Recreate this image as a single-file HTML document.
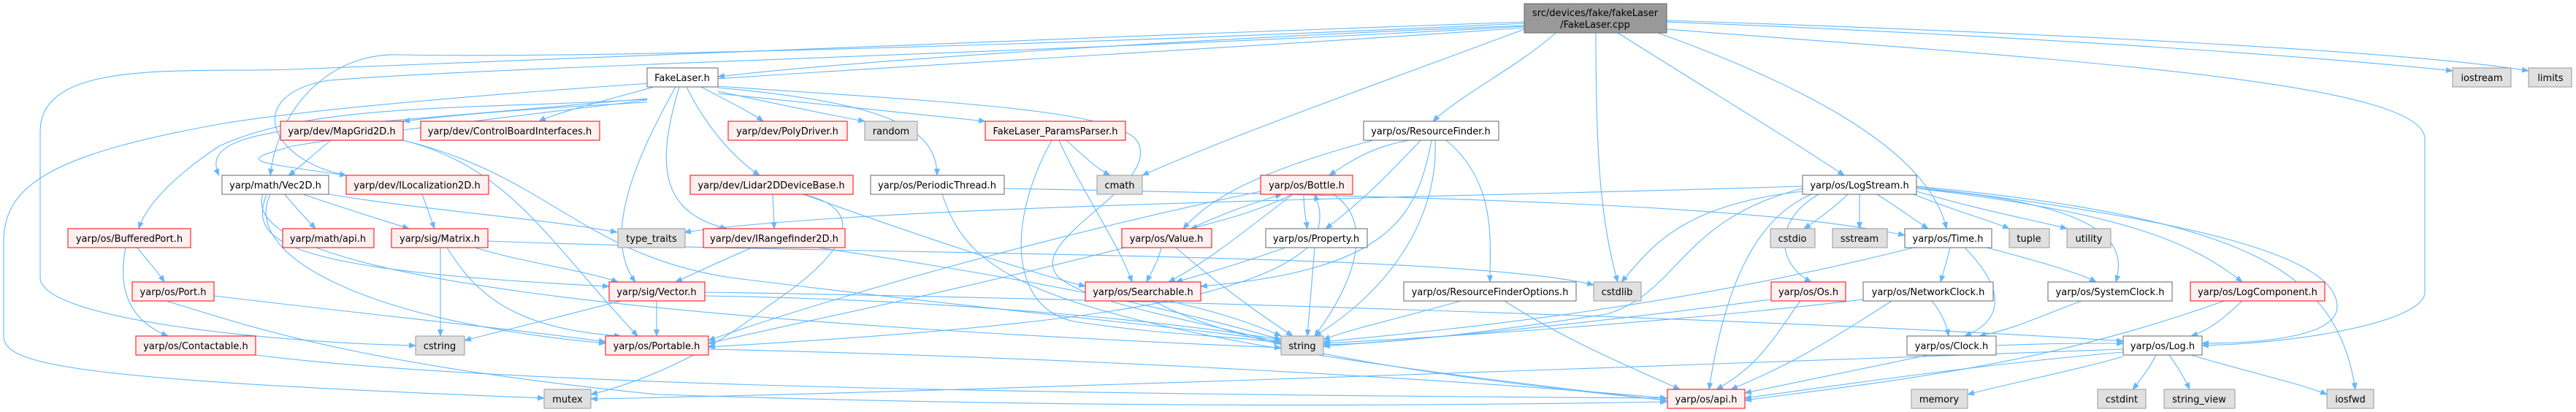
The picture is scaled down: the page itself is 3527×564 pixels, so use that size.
<!DOCTYPE html>
<html><head><meta charset="utf-8"><style>
body{margin:0;background:#fff;}
svg{display:block;}
text{font-family:"DejaVu Sans","Liberation Sans",sans-serif;font-size:13px;fill:#000;text-anchor:middle;}
.e{fill:none;stroke:#63b8ff;stroke-width:1.1;marker-end:url(#a);}
.r{fill:#fff0f0;stroke:#ff0000;stroke-width:1;}
.g{fill:#e0e0e0;stroke:#999;stroke-width:1;}
.w{fill:#fff;stroke:#666;stroke-width:1;}
.m{fill:#999;stroke:#666;stroke-width:1;}
</style></head><body>
<svg width="3527" height="564" viewBox="0 0 3527 564" xmlns="http://www.w3.org/2000/svg">
<defs><marker id="a" markerWidth="10" markerHeight="8" refX="9" refY="4" orient="auto" markerUnits="userSpaceOnUse"><path d="M0,0 L10,4 L0,8 z" fill="#63b8ff"/></marker></defs>
<g>
<!-- main -->
<path class="e" d="M2087,35 C1700,50 1200,80 983,105"/>
<path class="e" d="M2130,45 C2080,90 2000,130 1962,166"/>
<path class="e" d="M2185,45 C2185,200 2190,300 2215,386"/>
<path class="e" d="M2215,45 C2350,130 2450,190 2525,240"/>
<path class="e" d="M2270,45 C2450,110 2640,200 2665,313"/>
<path class="e" d="M2282,30 C2800,50 3200,80 3358,97"/>
<path class="e" d="M2282,28 C2800,45 3300,70 3462,97"/>
<path class="e" d="M2282,40 C2800,80 3320,110 3320,190 L3320,400 C3320,440 3150,470 3015,473"/>
<path class="e" d="M2087,40 C1900,110 1700,180 1564,240"/>
<path class="e" d="M2087,30 C1500,50 800,80 400,95 C250,100 55,80 55,180 L55,380 C55,440 400,470 569,473"/>
<path class="e" d="M2087,32 C1500,60 800,80 550,75 C450,70 380,150 370,240"/>
<path class="e" d="M2087,36 C1500,70 700,90 450,110 C330,130 370,220 474,240"/>
<path class="e" d="M2087,38 C1500,80 600,120 300,170 C80,210 5,250 5,330 L5,460 C5,500 100,520 745,545"/>
<!-- FakeLaser.h -->
<path class="e" d="M886,140 C700,150 600,160 552,166"/>
<path class="e" d="M895,119 C820,140 760,155 738,166"/>
<path class="e" d="M960,119 C1000,140 1030,155 1045,166"/>
<path class="e" d="M983,125 C1100,150 1150,160 1184,166"/>
<path class="e" d="M983,128 C1200,150 1300,160 1349,166"/>
<path class="e" d="M940,119 C970,180 1010,220 1040,240"/>
<path class="e" d="M983,120 C1200,140 1283,170 1283,240"/>
<path class="e" d="M886,135 C700,150 600,160 480,170 C330,180 280,200 300,240"/>
<path class="e" d="M886,137 C700,160 520,180 400,200 C330,220 330,220 474,240"/>
<path class="e" d="M886,136 C650,150 430,140 300,200 C240,240 200,280 190,313"/>
<path class="e" d="M925,119 C880,200 820,320 870,386"/>
<path class="e" d="M930,119 C900,220 900,290 995,313"/>
<path class="e" d="M983,118 C1300,140 1550,150 1560,200 C1580,260 1400,330 1450,380 C1500,420 1650,440 1754,470"/>
<!-- MapGrid2D -->
<path class="e" d="M453,192 C430,210 410,230 395,240"/>
<path class="e" d="M552,192 C700,230 750,330 873,460"/>
<path class="e" d="M552,192 C750,240 800,350 1000,380 C1400,430 1650,450 1754,468"/>
<!-- Vec2D -->
<path class="e" d="M390,266 C405,285 420,300 432,313"/>
<path class="e" d="M415,266 C470,285 520,300 560,313"/>
<path class="e" d="M450,266 C600,290 750,300 845,318"/>
<path class="e" d="M365,266 C340,330 380,370 834,392"/>
<path class="e" d="M370,266 C330,350 500,440 829,470"/>
<path class="e" d="M360,266 C320,380 900,440 1754,476"/>
<!-- ILocalization -->
<path class="e" d="M578,266 C585,285 590,300 595,313"/>
<!-- Matrix -->
<path class="e" d="M603,339 L603,460"/>
<path class="e" d="M650,339 C720,360 800,370 846,386"/>
<path class="e" d="M612,339 C650,400 700,450 850,460"/>
<path class="e" d="M668,330 C1200,350 2000,345 2182,390"/>
<!-- BufferedPort -->
<path class="e" d="M188,339 C200,355 215,370 225,386"/>
<path class="e" d="M172,339 C160,400 180,440 230,460"/>
<path class="e" d="M228,412 C350,450 500,500 900,540 C1500,560 2000,555 2282,550"/>
<path class="e" d="M293,405 C500,430 700,450 829,468"/>
<path class="e" d="M350,486 C700,530 1500,540 2282,545"/>
<!-- Lidar -->
<path class="e" d="M1058,266 L1060,313"/>
<path class="e" d="M1100,266 C1160,280 1200,320 1050,420 C950,500 850,530 809,540"/>
<path class="e" d="M1100,266 C1250,320 1400,370 1486,392"/>
<!-- IRangefinder -->
<path class="e" d="M1030,339 C980,360 950,375 925,386"/>
<path class="e" d="M1120,339 C1400,380 1600,420 1754,465"/>
<!-- PeriodicThread -->
<path class="e" d="M1375,258 C2000,270 2400,280 2608,322"/>
<path class="e" d="M1290,266 C1330,380 1400,450 2282,548"/>
<!-- Params -->
<path class="e" d="M1460,192 C1480,210 1500,230 1520,240"/>
<path class="e" d="M1450,192 C1480,260 1530,330 1550,386"/>
<path class="e" d="M1440,192 C1380,300 1380,420 1470,440 C1600,460 1700,460 1754,470"/>
<!-- Vector -->
<path class="e" d="M899,412 L899,460"/>
<path class="e" d="M965,405 C1300,410 1600,440 1754,465"/>
<path class="e" d="M850,412 C780,430 700,450 636,466"/>
<path class="e" d="M965,400 C1600,410 2500,440 2907,467"/>
<!-- Portable -->
<path class="e" d="M970,478 C1500,490 2000,520 2282,545"/>
<!-- ResourceFinder -->
<path class="e" d="M1930,192 C1880,200 1850,220 1820,240"/>
<path class="e" d="M1880,192 C1700,240 1650,280 1620,313"/>
<path class="e" d="M1945,192 C1900,240 1860,280 1815,313"/>
<path class="e" d="M1960,192 C1940,300 1900,370 1644,392"/>
<path class="e" d="M1965,192 C1970,300 1900,400 1800,460"/>
<path class="e" d="M1980,192 C2050,250 2040,330 2040,386"/>
<!-- Bottle -->
<path class="e" d="M1770,266 C1720,290 1680,300 1630,313"/>
<path class="e" d="M1785,266 C1785,285 1788,300 1790,313"/>
<path class="e" d="M1770,266 C1700,320 1650,360 1600,386"/>
<path class="e" d="M1825,266 C1880,300 1860,380 1800,460"/>
<path class="e" d="M1726,262 C1400,330 1100,420 970,466"/>
<!-- Value -->
<path class="e" d="M1630,313 C1680,290 1710,280 1755,266"/>
<path class="e" d="M1590,339 C1585,360 1575,375 1570,386"/>
<path class="e" d="M1610,339 C1680,400 1740,440 1770,460"/>
<path class="e" d="M1540,339 C1300,400 1100,440 970,470"/>
<!-- Property -->
<path class="e" d="M1805,313 C1810,290 1805,280 1800,266"/>
<path class="e" d="M1760,339 C1700,360 1650,375 1610,386"/>
<path class="e" d="M1800,339 L1790,460"/>
<path class="e" d="M1790,339 C1700,420 1400,450 970,475"/>
<!-- Searchable -->
<path class="e" d="M1600,412 C1680,430 1720,445 1754,460"/>
<path class="e" d="M1580,412 C1700,480 2000,520 2282,548"/>
<!-- RFOptions -->
<path class="e" d="M2000,412 C1900,440 1850,450 1812,465"/>
<path class="e" d="M2060,412 C2150,470 2250,510 2300,533"/>
<!-- LogStream -->
<path class="e" d="M2530,266 C2510,285 2490,300 2470,313"/>
<path class="e" d="M2546,266 L2546,313"/>
<path class="e" d="M2570,266 C2600,285 2620,300 2640,313"/>
<path class="e" d="M2620,266 C2680,290 2720,300 2751,313"/>
<path class="e" d="M2624,262 C2720,290 2780,300 2830,313"/>
<path class="e" d="M2624,258 C2900,280 2910,340 2897,386"/>
<path class="e" d="M2624,258 C2900,290 3000,330 3070,386"/>
<path class="e" d="M2624,256 C3000,300 3200,350 3200,420 C3200,460 3100,470 3015,470"/>
<path class="e" d="M2624,255 C3100,300 3200,380 3225,533"/>
<path class="e" d="M2490,266 C2430,300 2430,360 2480,386"/>
<path class="e" d="M2480,266 C2400,300 2360,400 2340,533"/>
<path class="e" d="M2468,262 C2300,280 2260,340 2220,386"/>
<path class="e" d="M2468,258 C2300,300 2300,400 2200,430 C2000,460 1900,470 1812,472"/>
<path class="e" d="M2468,255 C2000,270 1200,280 937,318"/>
<!-- Time -->
<path class="e" d="M2670,339 C2665,360 2660,375 2657,386"/>
<path class="e" d="M2720,339 C2800,360 2850,375 2870,386"/>
<path class="e" d="M2690,339 C2750,400 2740,440 2690,460"/>
<path class="e" d="M2620,339 C2300,420 2000,450 1812,468"/>
<!-- Os -->
<path class="e" d="M2424,410 C2200,440 2000,460 1812,474"/>
<path class="e" d="M2465,412 C2430,460 2410,500 2350,533"/>
<!-- NetworkClock -->
<path class="e" d="M2645,412 C2660,430 2665,445 2668,460"/>
<path class="e" d="M2590,412 C2500,470 2450,500 2370,533"/>
<path class="e" d="M2551,410 C2300,440 2000,460 1812,470"/>
<!-- SystemClock -->
<path class="e" d="M2850,412 C2800,430 2760,450 2710,460"/>
<!-- Clock -->
<path class="e" d="M2640,486 C2550,505 2450,525 2389,538"/>
<!-- LogComponent -->
<path class="e" d="M3070,412 C3050,430 3030,450 3000,460"/>
<path class="e" d="M3045,412 C2800,500 2600,520 2389,548"/>
<!-- Log -->
<path class="e" d="M2952,486 C2945,500 2935,515 2920,533"/>
<path class="e" d="M2970,486 C2980,500 2990,515 2998,533"/>
<path class="e" d="M3000,486 C3080,510 3150,525 3186,540"/>
<path class="e" d="M2907,488 C2850,505 2750,525 2694,540"/>
<path class="e" d="M2907,482 C2700,500 2500,530 2389,545"/>
<path class="e" d="M2733,473 C2800,470 2850,470 2907,470"/>
<path class="e" d="M2907,478 C2300,500 1200,540 809,546"/>
</g>
<!-- nodes -->
<rect class="m" x="2087" y="5" width="195" height="40"/><text x="2184" y="22">src/devices/fake/fakeLaser</text><text x="2184" y="38">/FakeLaser.cpp</text>
<rect class="w" x="886" y="93" width="97" height="26"/><text x="934" y="111">FakeLaser.h</text>
<rect class="g" x="3358" y="93" width="80" height="26"/><text x="3398" y="111">iostream</text>
<rect class="g" x="3462" y="93" width="59" height="26"/><text x="3492" y="111">limits</text>
<rect class="r" x="384" y="166" width="168" height="26"/><text x="468" y="184">yarp/dev/MapGrid2D.h</text>
<rect class="r" x="576" y="166" width="245" height="26"/><text x="698" y="184">yarp/dev/ControlBoardInterfaces.h</text>
<rect class="r" x="997" y="166" width="163" height="26"/><text x="1078" y="184">yarp/dev/PolyDriver.h</text>
<rect class="g" x="1184" y="166" width="72" height="26"/><text x="1220" y="184">random</text>
<rect class="r" x="1349" y="166" width="192" height="26"/><text x="1445" y="184">FakeLaser_ParamsParser.h</text>
<rect class="w" x="1867" y="166" width="185" height="26"/><text x="1959" y="184">yarp/os/ResourceFinder.h</text>
<rect class="w" x="304" y="240" width="146" height="26"/><text x="377" y="258">yarp/math/Vec2D.h</text>
<rect class="r" x="474" y="240" width="195" height="26"/><text x="571" y="258">yarp/dev/ILocalization2D.h</text>
<rect class="r" x="945" y="240" width="223" height="26"/><text x="1056" y="258">yarp/dev/Lidar2DDeviceBase.h</text>
<rect class="w" x="1192" y="240" width="183" height="26"/><text x="1283" y="258">yarp/os/PeriodicThread.h</text>
<rect class="g" x="1502" y="240" width="62" height="26"/><text x="1533" y="258">cmath</text>
<rect class="r" x="1726" y="240" width="126" height="26"/><text x="1789" y="258">yarp/os/Bottle.h</text>
<rect class="w" x="2468" y="240" width="156" height="26"/><text x="2546" y="258">yarp/os/LogStream.h</text>
<rect class="r" x="93" y="313" width="168" height="26"/><text x="177" y="331">yarp/os/BufferedPort.h</text>
<rect class="r" x="387" y="313" width="125" height="26"/><text x="449" y="331">yarp/math/api.h</text>
<rect class="r" x="536" y="313" width="132" height="26"/><text x="602" y="331">yarp/sig/Matrix.h</text>
<rect class="g" x="846" y="313" width="92" height="26"/><text x="892" y="331">type_traits</text>
<rect class="r" x="963" y="313" width="194" height="26"/><text x="1060" y="331">yarp/dev/IRangefinder2D.h</text>
<rect class="r" x="1536" y="313" width="123" height="26"/><text x="1597" y="331">yarp/os/Value.h</text>
<rect class="w" x="1733" y="313" width="139" height="26"/><text x="1802" y="331">yarp/os/Property.h</text>
<rect class="g" x="2424" y="313" width="61" height="26"/><text x="2454" y="331">cstdio</text>
<rect class="g" x="2509" y="313" width="75" height="26"/><text x="2546" y="331">sstream</text>
<rect class="w" x="2608" y="313" width="119" height="26"/><text x="2667" y="331">yarp/os/Time.h</text>
<rect class="g" x="2751" y="313" width="55" height="26"/><text x="2778" y="331">tuple</text>
<rect class="g" x="2830" y="313" width="60" height="26"/><text x="2860" y="331">utility</text>
<rect class="r" x="181" y="386" width="112" height="26"/><text x="237" y="404">yarp/os/Port.h</text>
<rect class="r" x="834" y="386" width="131" height="26"/><text x="899" y="404">yarp/sig/Vector.h</text>
<rect class="r" x="1486" y="386" width="158" height="26"/><text x="1565" y="404">yarp/os/Searchable.h</text>
<rect class="w" x="1922" y="386" width="236" height="26"/><text x="2040" y="404">yarp/os/ResourceFinderOptions.h</text>
<rect class="g" x="2182" y="386" width="65" height="26"/><text x="2214" y="404">cstdlib</text>
<rect class="r" x="2425" y="386" width="102" height="26"/><text x="2476" y="404">yarp/os/Os.h</text>
<rect class="w" x="2551" y="386" width="178" height="26"/><text x="2640" y="404">yarp/os/NetworkClock.h</text>
<rect class="w" x="2804" y="386" width="170" height="26"/><text x="2889" y="404">yarp/os/SystemClock.h</text>
<rect class="r" x="2999" y="386" width="184" height="26"/><text x="3091" y="404">yarp/os/LogComponent.h</text>
<rect class="r" x="186" y="460" width="164" height="26"/><text x="268" y="478">yarp/os/Contactable.h</text>
<rect class="g" x="569" y="460" width="67" height="26"/><text x="602" y="478">cstring</text>
<rect class="r" x="829" y="460" width="141" height="26"/><text x="899" y="478">yarp/os/Portable.h</text>
<rect class="g" x="1754" y="460" width="58" height="26"/><text x="1783" y="478">string</text>
<rect class="w" x="2611" y="460" width="122" height="26"/><text x="2672" y="478">yarp/os/Clock.h</text>
<rect class="w" x="2907" y="460" width="108" height="26"/><text x="2961" y="478">yarp/os/Log.h</text>
<rect class="g" x="745" y="533" width="64" height="26"/><text x="777" y="551">mutex</text>
<rect class="r" x="2283" y="533" width="106" height="26"/><text x="2336" y="551">yarp/os/api.h</text>
<rect class="g" x="2617" y="533" width="77" height="26"/><text x="2655" y="551">memory</text>
<rect class="g" x="2872" y="533" width="66" height="26"/><text x="2905" y="551">cstdint</text>
<rect class="g" x="2963" y="533" width="97" height="26"/><text x="3011" y="551">string_view</text>
<rect class="g" x="3186" y="533" width="64" height="26"/><text x="3218" y="551">iosfwd</text>
</svg>
</body></html>
